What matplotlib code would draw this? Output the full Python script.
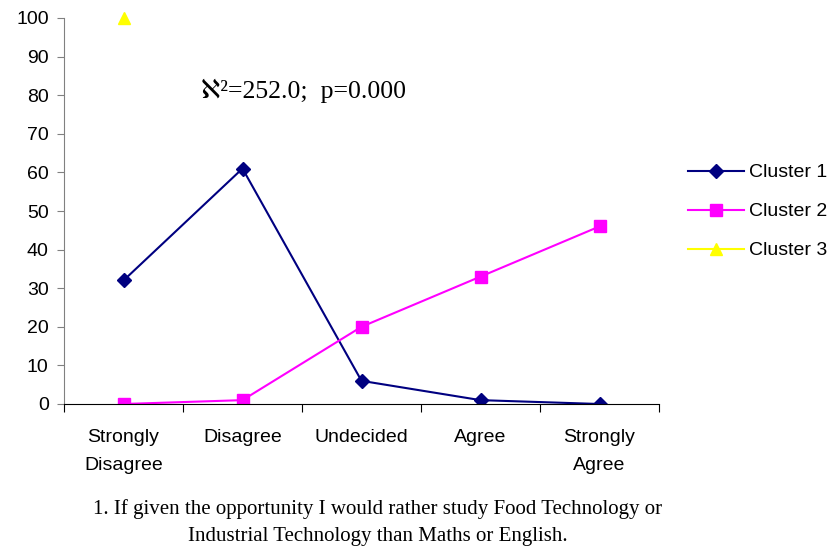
import numpy as np
import matplotlib.pyplot as plt

categories = ['Strongly\nDisagree', 'Disagree', 'Undecided', 'Agree', 'Strongly\nAgree']
cluster1 = [32, 61, 6, 1, 0]
cluster2 = [0, 1, 20, 33, 46]
cluster3 = [100, np.nan, np.nan, np.nan, np.nan]
caption = ('1. If given the opportunity I would rather study Food Technology or\n'
           'Industrial Technology than Maths or English.')

plt.rcParams['font.family'] = ['Liberation Sans', 'DejaVu Sans']
serif = ['Liberation Serif', 'DejaVu Serif', 'DejaVu Sans']

fig = plt.figure(figsize=(8.39, 5.49), dpi=100)
ax = fig.add_axes([64/839, 1-404/549, (659-64)/839, (404-18)/549])

x = np.arange(len(categories))
ax.plot(x, cluster1, color='#000080', marker='D', markersize=7, lw=1.5, label='Cluster 1')
ax.plot(x, cluster2, color='#FF00FF', marker='s', markersize=8, lw=1.5, label='Cluster 2')
ax.plot(x, cluster3, color='#FFFF00', marker='^', markersize=9, lw=1.5, label='Cluster 3',
        clip_on=False)

ax.set_xlim(-0.5, len(categories) - 0.5)
ax.set_ylim(0, 100)
ax.set_yticks(range(0, 101, 10))
ax.set_xticks(np.arange(-0.5, len(categories), 1))
ax.set_xticklabels([])
ax.set_xticks(x, minor=True)
ax.set_xticklabels(categories, minor=True, fontsize=14, linespacing=1.87)
ax.tick_params(axis='x', which='major', direction='out', length=6, color='black')
ax.tick_params(axis='x', which='minor', length=0, pad=18)
ax.tick_params(axis='y', direction='out', length=5, labelsize=14, color='#808080', pad=6)

for s in ['top', 'right']:
    ax.spines[s].set_visible(False)
ax.spines['left'].set_color('#808080')
ax.spines['bottom'].set_color('black')

ax.text(0.65, 81, '\u2135\u00b2=252.0;  p=0.000', fontsize=18.5, family=serif, va='center')

fig.legend(loc='center left', bbox_to_anchor=(670/839, 1-211.5/549), frameon=False,
           fontsize=14, handlelength=2.9, labelspacing=1.1, handletextpad=0.25)

fig.text(378/839, 1-522.5/549, caption, ha='center', va='center', fontsize=15,
         family=serif, linespacing=1.55)

fig.savefig('out.png', dpi=100)
